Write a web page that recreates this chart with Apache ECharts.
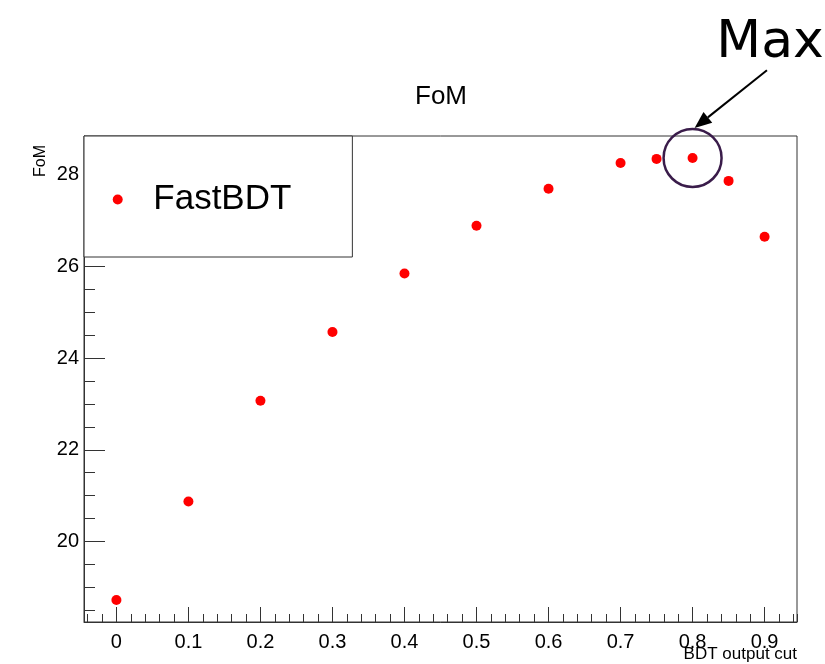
<!DOCTYPE html>
<html><head><meta charset="utf-8">
<script src="https://cdn.jsdelivr.net/npm/echarts@6/dist/echarts.min.js"></script>
<style>html,body{margin:0;padding:0;background:#fff}#c{width:825px;height:664px}</style>
</head><body><div id="c"></div>
<script>
// ---- data ----
const cuts = [0, 0.1, 0.2, 0.3, 0.4, 0.5, 0.6, 0.7, 0.75, 0.8, 0.85, 0.9];
const fom  = [18.72, 20.87, 23.07, 24.57, 25.85, 26.89, 27.70, 28.26, 28.35, 28.37, 27.87, 26.65];
const seriesName = 'FastBDT';
const titleText = 'FoM';
const xName = 'BDT output cut';
const yName = 'FoM';
const annotationText = 'Max';
const xRange = [-0.045, 0.945];
const yRange = [18.24, 28.85];

// ---- chart ----
const FONT = '"Liberation Sans", Arial, Helvetica, sans-serif';
const LINE = '#333';
const chart = echarts.init(document.getElementById('c'), null, {renderer: 'canvas'});
let iMax = 0;
fom.forEach((v, i) => { if (v > fom[iMax]) iMax = i; });

const tickLine = {lineStyle: {color: LINE, width: 1}};
chart.setOption({
  animation: false,
  backgroundColor: '#fff',
  title: {
    text: titleText, left: 415, top: 84, padding: 0,
    textStyle: {fontFamily: FONT, fontSize: 26, fontWeight: 'normal', color: '#000'}
  },
  legend: {
    data: [seriesName], left: 84, top: 136, orient: 'horizontal',
    icon: 'circle', itemWidth: 10, itemHeight: 10,
    padding: [46, 61, 40, 28.7],
    borderColor: LINE, borderWidth: 1, backgroundColor: '#fff',
    textStyle: {fontFamily: FONT, fontSize: 35, color: '#000', padding: [0, 0, 0, 25.6]},
    itemStyle: {opacity: 1},
    selectedMode: false
  },
  grid: {left: 84, right: 28, top: 136, bottom: 42, show: true, borderColor: LINE, borderWidth: 1, outerBoundsMode: 'none', containLabel: false},
  xAxis: [
    {
      type: 'value', min: xRange[0], max: xRange[1], splitNumber: 10, position: 'bottom',
      axisLine: {show: true, onZero: false, lineStyle: {color: LINE}},
      axisTick: Object.assign({inside: true, length: 15}, tickLine),
      axisLabel: {showMinLabel: false, showMaxLabel: false, fontFamily: FONT, fontSize: 20, color: '#000', margin: 10},
      splitLine: {show: false},
      name: xName, nameLocation: 'end', nameGap: 0, nameMoveOverlap: false,
      nameTextStyle: {fontFamily: FONT, fontSize: 17, color: '#000', align: 'right', verticalAlign: 'top', padding: [24, 0, 0, 0]}
    },
    {
      type: 'value', min: xRange[0], max: xRange[1], splitNumber: 50, position: 'bottom',
      axisLine: {show: false, onZero: false},
      axisTick: Object.assign({inside: true, length: 8}, tickLine),
      axisLabel: {show: false}, splitLine: {show: false}
    }
  ],
  yAxis: [
    {
      type: 'value', min: yRange[0], max: yRange[1], splitNumber: 5, position: 'left',
      axisLine: {show: true, onZero: false, lineStyle: {color: LINE}},
      axisTick: Object.assign({inside: true, length: 21}, tickLine),
      axisLabel: {showMinLabel: false, showMaxLabel: false, fontFamily: FONT, fontSize: 20, color: '#000', margin: 5},
      splitLine: {show: false}
    },
    {
      type: 'value', min: yRange[0], max: yRange[1], splitNumber: 21, position: 'left',
      axisLine: {show: false, onZero: false},
      axisTick: Object.assign({inside: true, length: 11}, tickLine),
      axisLabel: {show: false}, splitLine: {show: false}
    }
  ],
  series: [
    {
      type: 'scatter', name: seriesName, xAxisIndex: 0, yAxisIndex: 0,
      data: cuts.map((c, i) => [c, fom[i]]),
      symbol: 'circle', symbolSize: 10, itemStyle: {color: '#ff0000', opacity: 1}, z: 3
    },
    {
      type: 'scatter', name: 'max-marker', xAxisIndex: 0, yAxisIndex: 0,
      data: [[cuts[iMax], fom[iMax]]],
      symbol: 'circle', symbolSize: 58, clip: false, silent: true, z: 4,
      itemStyle: {color: 'rgba(0,0,0,0)', borderColor: '#3a1c4a', borderWidth: 2.5, opacity: 1}
    }
  ]
});

// annotation positioned relative to the max point
const p = chart.convertToPixel({seriesIndex: 0}, [cuts[iMax], fom[iMax]]);
const tip = [p[0] + 2, p[1] - 30];
const tail = [p[0] + 74.4, p[1] - 87.7];
const dx = tip[0] - tail[0], dy = tip[1] - tail[1];
const L = Math.hypot(dx, dy), ux = dx / L, uy = dy / L;
const hl = 17, hw = 7;
const base = [tip[0] - hl * ux, tip[1] - hl * uy];
const nx = -uy, ny = ux;

chart.setOption({
  graphic: [
    {type: 'text', x: 49, y: 145, rotation: Math.PI / 2,
     style: {text: yName, font: '16px ' + FONT, fill: '#000', align: 'right', verticalAlign: 'bottom'}},
    {type: 'text', x: p[0] + 23.7, y: p[1] - 115,
     style: {text: annotationText, font: '52px "DejaVu Sans", sans-serif', fill: '#000', align: 'left', verticalAlign: 'middle'}},
    {type: 'line', shape: {x1: tail[0], y1: tail[1], x2: base[0], y2: base[1]}, style: {stroke: '#000', lineWidth: 2}},
    {type: 'polygon', shape: {points: [tip, [base[0] + hw * nx, base[1] + hw * ny], [base[0] - hw * nx, base[1] - hw * ny]]}, style: {fill: '#000'}}
  ]
});
</script></body></html>
